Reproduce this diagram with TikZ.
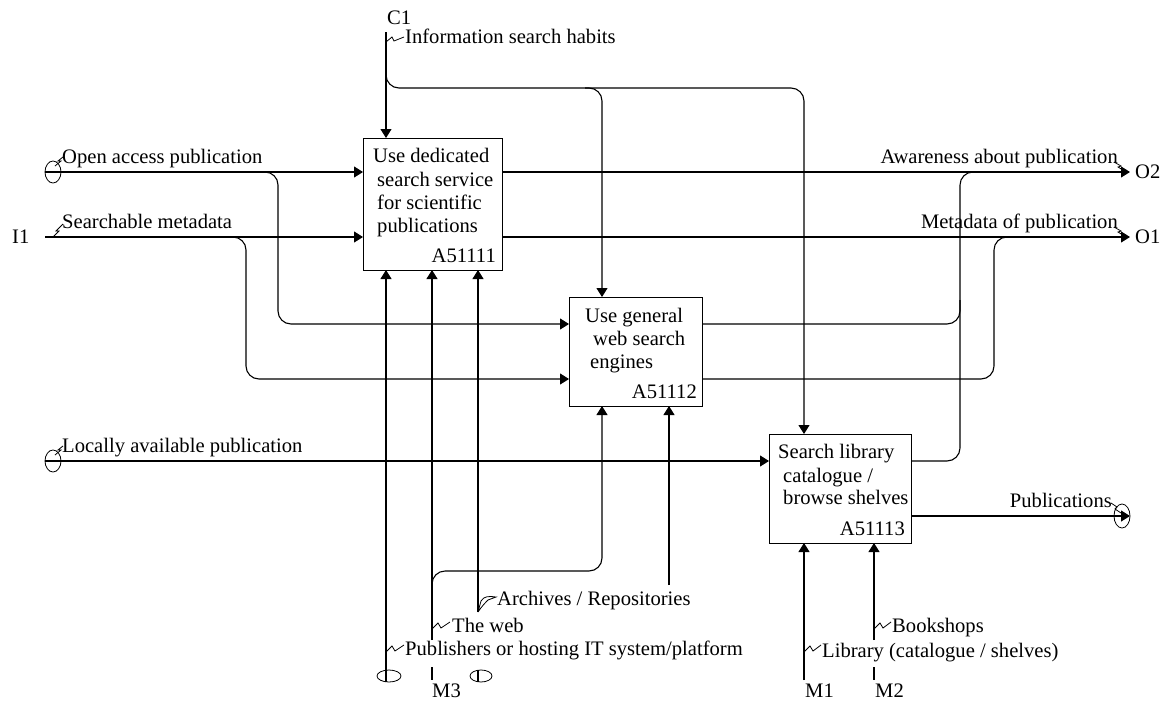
\documentclass[tikz,border=0pt]{standalone}
\usepackage{fontspec}
\setmainfont{Liberation Serif}
\usetikzlibrary{arrows.meta,calc}
\begin{document}
\begin{tikzpicture}[x=1pt,y=-1pt,
  every node/.style={font=\fontsize{20.6pt}{24pt}\selectfont, inner sep=0pt},
  box/.style={draw, line width=1.3pt, anchor=north west},
  ln/.style={line width=1.1pt},
  arr/.style={line width=1.1pt, -{Triangle[length=9pt,width=11pt]}},
  rc/.style={rounded corners=13pt},
  sq/.style={line width=0.8pt},
  tun/.style={line width=0.8pt},
  lbl/.style={anchor=base west},
  lblr/.style={anchor=base east}]
\fill[white] (0,0) rectangle (1170,702);
\useasboundingbox (0,0) rectangle (1170,702);

% boxes
\node[box, minimum width=139pt, minimum height=132pt] (b1) at (363,138) {};
\node[box, minimum width=133pt, minimum height=109pt] (b2) at (569,297) {};
\node[box, minimum width=142pt, minimum height=109pt] (b3) at (769,434) {};

% box texts
\node[lbl] (b1t1) at (373,162.7) {Use dedicated};
\node[lbl] (b1t2) at (377,186) {search service};
\node[lbl] (b1t3) at (377,209) {for scientific};
\node[lbl] (b1t4) at (377,232) {publications};
\node[lblr] (b1id) at (496,262) {A51111};
\node[lbl] (b2t1) at (585,322) {Use general};
\node[lbl] (b2t2) at (593,345) {web search};
\node[lbl] (b2t3) at (590,368) {engines};
\node[lblr] (b2id) at (697,398) {A51112};
\node[lbl] (b3t1) at (778,458) {Search library};
\node[lbl] (b3t2) at (783,482) {catalogue /};
\node[lbl] (b3t3) at (783,504) {browse shelves};
\node[lblr] (b3id) at (905,535) {A51113};

% ports
\coordinate (b1i1) at (363,172); \coordinate (b1i2) at (363,237);
\coordinate (b1c) at (386,138);
\coordinate (b1o1) at (502,172); \coordinate (b1o2) at (502,237);
\coordinate (b1m1) at (386,270); \coordinate (b1m2) at (432,270); \coordinate (b1m3) at (478,270);
\coordinate (b2i1) at (569,324); \coordinate (b2i2) at (569,379);
\coordinate (b2c) at (602,297);
\coordinate (b2o1) at (702,324); \coordinate (b2o2) at (702,379);
\coordinate (b2m1) at (602,406); \coordinate (b2m2) at (669,406);
\coordinate (b3i) at (769,461); \coordinate (b3c) at (804,434);
\coordinate (b3o1) at (911,461); \coordinate (b3o2) at (911,516);
\coordinate (b3m1) at (804,543); \coordinate (b3m2) at (874,543);

% free ends
\coordinate (oa) at (45,172); \coordinate (sm) at (45,237); \coordinate (la) at (45,461);
\coordinate (c1) at (386,32);
\coordinate (o2) at (1130,172); \coordinate (o1) at (1130,237); \coordinate (pubo) at (1130,516);
\coordinate (m386) at (386,682);
\coordinate (m432) at (432,640); \coordinate (m432b) at (432,667); \coordinate (m432c) at (432,680);
\coordinate (m478) at (478,612); \coordinate (m478b) at (478,670); \coordinate (m478c) at (478,682);
\coordinate (m669) at (669,585);
\coordinate (m804) at (804,680);
\coordinate (m874) at (874,640); \coordinate (m874b) at (874,667); \coordinate (m874c) at (874,680);

% inputs
\draw[arr] (oa) -- (b1i1);
\draw[arr,rc] (255,172) -- (278,172) -- (278,324) -- (b2i1);
\draw[arr] (sm) -- (b1i2);
\draw[arr,rc] (225,237) -- (246,237) -- (246,379) -- (b2i2);
\draw[arr] (la) -- (b3i);

% controls
\draw[arr] (c1) -- (b1c);
\draw[arr,rc] (386,70) -- (386,88) -- (602,88) -- (b2c);
\draw[arr,rc] (585,88) -- (804,88) -- (b3c);

% outputs
\draw[arr] (b1o1) -- (o2);
\draw[arr] (b1o2) -- (o1);
\draw[ln,rc] (b2o1) -- (960,324) -- (960,172) -- (990,172);
\draw[ln,rc] (b3o1) -- (960,461) -- (960,300);
\draw[ln,rc] (b2o2) -- (994,379) -- (994,237) -- (1020,237);
\draw[arr] (b3o2) -- (pubo);

% mechanisms
\draw[arr] (m386) -- (b1m1);
\draw[arr] (m432) -- (b1m2);
\draw[ln] (m432b) -- (m432c);
\draw[arr,rc] (432,600) -- (432,571) -- (602,571) -- (b2m1);
\draw[arr] (m478) -- (b1m3);
\draw[ln] (m478b) -- (m478c);
\draw[arr] (m669) -- (b2m2);
\draw[arr] (m804) -- (b3m1);
\draw[arr] (m874) -- (b3m2);
\draw[ln] (m874b) -- (m874c);

% tunnels
\draw[tun] (53,172) ellipse [x radius=8pt, y radius=11pt];
\draw[tun] (53,461) ellipse [x radius=8pt, y radius=11pt];
\draw[tun] (1122,516) ellipse [x radius=8pt, y radius=12pt];
\draw[tun] (389,676) ellipse [x radius=12pt, y radius=6pt];
\draw[tun] (481,676) ellipse [x radius=11pt, y radius=6pt];

% labels
\node[lbl] (tC1) at (387,24) {C1};
\node[lbl] (tI1) at (12,243) {I1};
\node[lbl] (tO2) at (1135,178) {O2};
\node[lbl] (tO1) at (1135,243) {O1};
\node[lbl] (tM3) at (432,697) {M3};
\node[lbl] (tM1) at (805,697) {M1};
\node[lbl] (tM2) at (875,697) {M2};

\node[lbl] (lOA) at (62,163) {Open access publication};
\node[lbl] (lSM) at (62,228) {Searchable metadata};
\node[lbl] (lLA) at (62,452) {Locally available publication};
\node[lbl] (lIS) at (405,43) {Information search habits};
\node[lblr] (lAW) at (1118,163) {Awareness about publication};
\node[lblr] (lMD) at (1118,228) {Metadata of publication};
\node[lblr] (lPU) at (1112,507) {Publications};
\node[lbl] (lAR) at (497,605) {Archives / Repositories};
\node[lbl] (lTW) at (452,632) {The web};
\node[lbl] (lPB) at (405,655) {Publishers or hosting IT system/platform};
\node[lbl] (lBS) at (892,632) {Bookshops};
\node[lbl] (lLI) at (822,657) {Library (catalogue / shelves)};

% squiggles
\draw[sq] (55,166) -- (61,161) -- (58,161) -- (63,157);
\draw[sq] (55,455) -- (61,450) -- (58,450) -- (63,446);
\draw[sq] (53,237) -- (59,231) -- (56,231) -- (63,224);
\draw[sq] (386,42) -- (392,37) -- (394,41) -- (404,37);
\draw[sq] (1114,162) -- (1121,166) -- (1118,167) -- (1126,172);
\draw[sq] (1114,227) -- (1121,231) -- (1118,232) -- (1126,237);
\draw[sq] (1111,503) -- (1117,507) -- (1115,509) -- (1121,513);
\draw[sq] (432,629) -- (438,623) -- (441,628) -- (450,622);
\draw[sq] (386,652) -- (392,646) -- (395,651) -- (404,645);
\draw[sq] (874,629) -- (880,623) -- (883,628) -- (891,622);
\draw[sq] (804,652) -- (810,646) -- (813,651) -- (821,645);
\draw[sq] (478,612) -- (481,601) .. controls (484,596) and (489,596) .. (496,597)
      -- (488,600) .. controls (485,603) and (482,606) .. (478,612);
\end{tikzpicture}
\end{document}
